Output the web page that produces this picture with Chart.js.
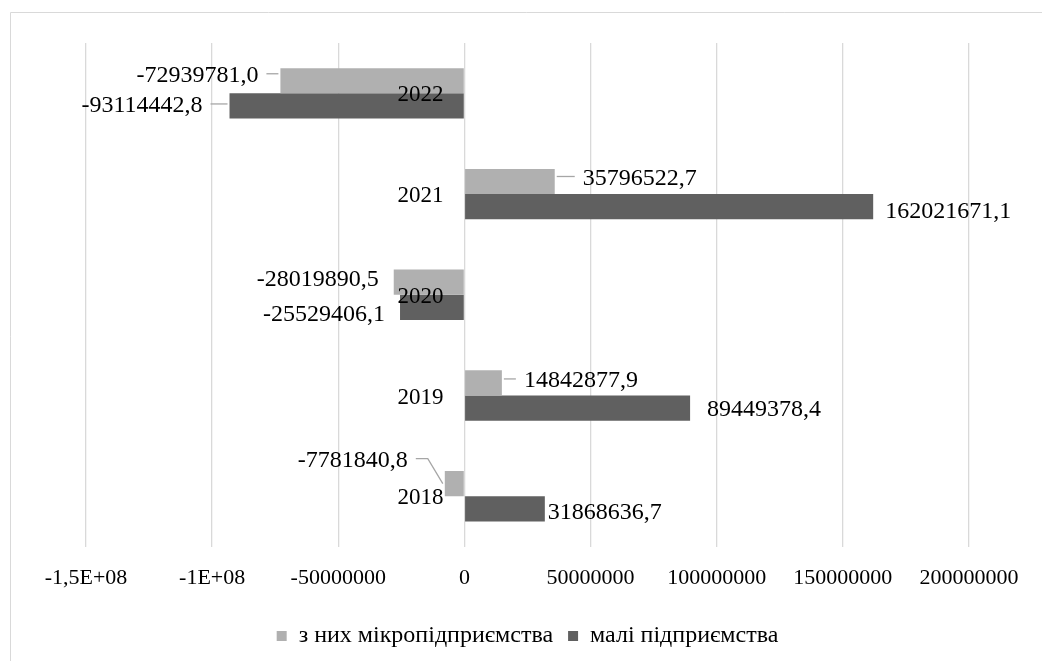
<!DOCTYPE html>
<html>
<head>
<meta charset="utf-8">
<script src="https://cdn.jsdelivr.net/npm/chart.js@4/dist/chart.umd.min.js"></script>
<style>
  html, body { margin: 0; padding: 0; background: #fff; }
  #wrap { width: 1042px; height: 661px; position: relative; }
</style>
</head>
<body>
<div id="wrap"><canvas id="myChart"></canvas></div>
<script>
// data
const years = ['2022', '2021', '2020', '2019', '2018'];
const microValues = [-72939781.0, 35796522.7, -28019890.5, 14842877.9, -7781840.8];
const smallValues = [-93114442.8, 162021671.1, -25529406.1, 89449378.4, 31868636.7];
const xTicks = [-150000000, -100000000, -50000000, 0, 50000000, 100000000, 150000000, 200000000];
const seriesNames = ['з них мікропідприємства', 'малі підприємства'];

// where excel had the labels dragged to: [gap from bar end, dy, leader line]
const labelNudges = [
  [[22, -5, true], [27, 0, true]],
  [[28, -3, true], [12, 5, false]],
  [[15, -3, false], [15, 7, false]],
  [[22, -2, true], [17, 2, false]],
  [[37, -23, true], [3, 4, false]]
];

const serif = "'Liberation Serif', 'Times New Roman', serif";
Chart.defaults.font.family = serif;
Chart.defaults.color = '#000';

function tickText(v) {
  if (v === -150000000) return '-1,5E+08';
  if (v === -100000000) return '-1E+08';
  return String(v);
}

function fmt(v) {
  return v.toFixed(1).replace('.', ',');
}

const frame = {
  id: 'frame',
  beforeDraw(chart) {
    const c = chart.ctx;
    c.save();
    c.strokeStyle = '#d9d9d9';
    c.lineWidth = 1;
    c.beginPath();
    c.moveTo(10.5, 661);
    c.lineTo(10.5, 12.5);
    c.lineTo(1042, 12.5);
    c.stroke();
    c.restore();
  }
};

const barLabels = {
  id: 'barLabels',
  afterDatasetsDraw(chart) {
    const c = chart.ctx;
    const xs = chart.scales.x;
    const ys = chart.scales.y;
    c.save();
    c.fillStyle = '#000';
    c.textBaseline = 'middle';

    // year labels sit left of the zero line, on top of the bars
    const zero = xs.getPixelForValue(0);
    c.font = '23px ' + serif;
    c.textAlign = 'right';
    years.forEach((y, i) => {
      c.fillText(y, zero - 21, ys.getPixelForTick(i) + 2);
    });

    c.font = '24px ' + serif;
    chart.data.datasets.forEach((ds, di) => {
      const meta = chart.getDatasetMeta(di);
      meta.data.forEach((bar, i) => {
        const v = ds.data[i];
        const n = labelNudges[i][di];
        const neg = v < 0;
        const tx = neg ? bar.x - n[0] : bar.x + n[0];
        const ty = bar.y + n[1];
        c.textAlign = neg ? 'right' : 'left';
        c.fillText(fmt(v), tx, ty);
        if (n[2]) {
          c.strokeStyle = '#a6a6a6';
          c.lineWidth = 1.3;
          c.beginPath();
          const sx = neg ? tx + 8 : tx - 8;
          const ex = neg ? bar.x - 2 : bar.x + 2;
          c.moveTo(sx, ty - 2);
          if (Math.abs(n[1]) > 10) {
            c.lineTo(sx + (neg ? 12 : -12), ty - 2);
            c.lineTo(ex, bar.y);
          } else {
            c.lineTo(ex, ty - 2);
          }
          c.stroke();
        }
      });
    });
    c.restore();
  }
};

const ctx = document.getElementById('myChart').getContext('2d');

new Chart(ctx, {
  type: 'bar',
  data: {
    labels: years,
    datasets: [
      {
        label: seriesNames[0],
        data: microValues,
        backgroundColor: '#b0b0b0',
        categoryPercentage: 0.5,
        barPercentage: 1.0
      },
      {
        label: seriesNames[1],
        data: smallValues,
        backgroundColor: '#606060',
        categoryPercentage: 0.5,
        barPercentage: 1.0
      }
    ]
  },
  options: {
    indexAxis: 'y',
    responsive: true,
    maintainAspectRatio: false,
    animation: false,
    layout: {
      padding: { left: 86, right: 73, top: 43, bottom: 3 }
    },
    scales: {
      x: {
        min: -150000000,
        max: 200000000,
        afterBuildTicks(scale) {
          scale.ticks = xTicks.map(v => ({ value: v }));
        },
        grid: { color: '#d9d9d9', lineWidth: 1.3, drawTicks: false },
        border: { display: false },
        ticks: {
          color: '#000',
          padding: 18,
          maxRotation: 0,
          autoSkip: false,
          font: { family: serif, size: 22 },
          callback: v => tickText(v)
        }
      },
      y: {
        display: false
      }
    },
    plugins: {
      legend: {
        position: 'bottom',
        labels: {
          color: '#000',
          boxWidth: 10,
          boxHeight: 10,
          padding: 15,
          font: { family: serif, size: 24 }
        }
      },
      tooltip: { enabled: false }
    }
  },
  plugins: [frame, barLabels]
});
</script>
</body>
</html>
